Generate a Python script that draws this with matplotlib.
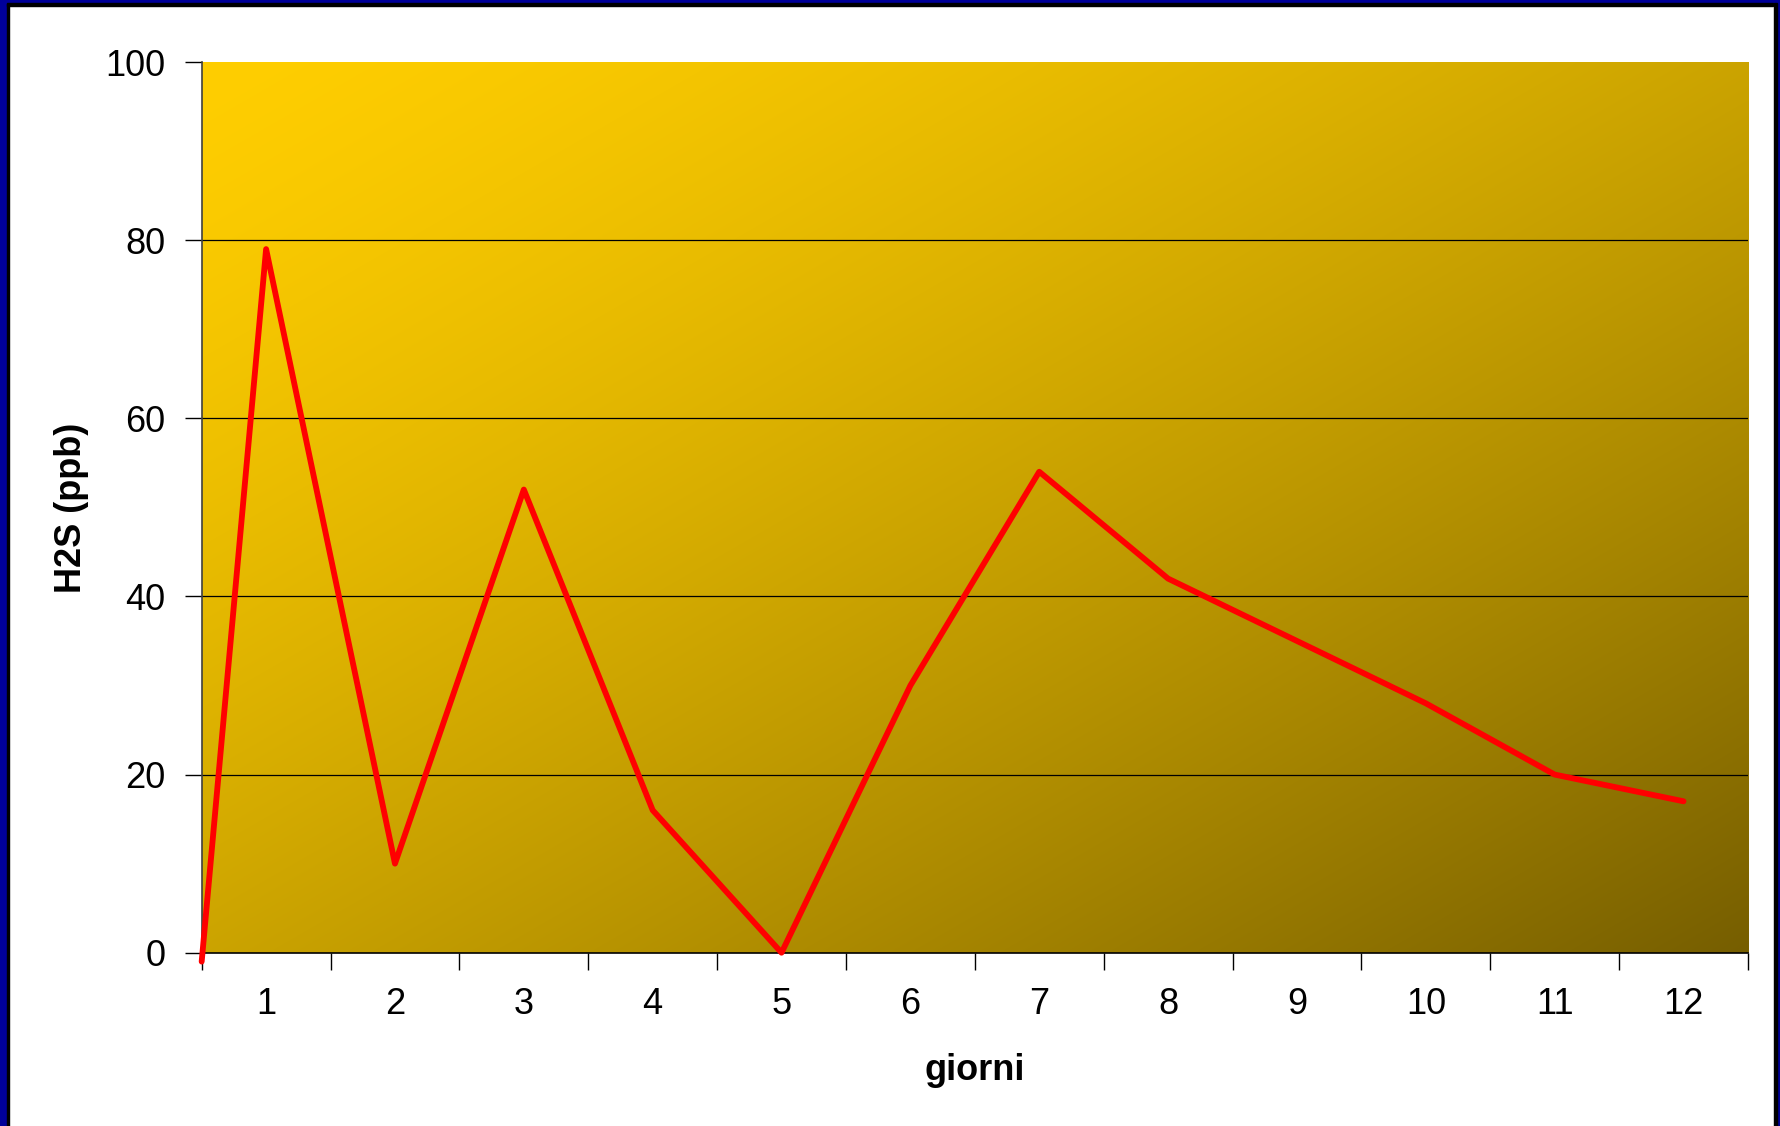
import matplotlib.pyplot as plt
import numpy as np
from matplotlib.patches import Rectangle

plt.rcParams['font.family'] = ['Liberation Sans', 'DejaVu Sans']

# H2S measurements per day (first point sits on the left edge of the axis)
giorni = [0.5, 1, 2, 3, 4, 5, 6, 7, 8, 9, 10, 11, 12]
h2s = [-1, 79, 10, 52, 16, 0, 30, 54, 42, 35, 28, 20, 17]
day_labels = [str(d) for d in range(1, 13)]
y_ticks = [0, 20, 40, 60, 80, 100]

fig = plt.figure(figsize=(17.8, 11.26), dpi=100)
ax = fig.add_axes([0.1133, 0.1539, 0.8687, 0.7910])

# diagonal gold -> dark olive background (row 0 = top)
n = 400
gx, gy = np.meshgrid(np.linspace(0, 1, n), np.linspace(0, 1, n))
t = ((gx + gy) / 2) ** 1.4
c0 = np.array([255, 206, 0]) / 255.0
c1 = np.array([118, 94, 0]) / 255.0
grad = c0[None, None, :] * (1 - t[..., None]) + c1[None, None, :] * t[..., None]
ax.imshow(grad, extent=[0, 1, 0, 1], origin='upper', transform=ax.transAxes,
          aspect='auto', zorder=0, interpolation='bilinear')

for v in y_ticks[1:-1]:
    ax.axhline(v, color='black', lw=0.9, zorder=1)

ax.plot(giorni, h2s, color='#ff0000', lw=4.2, zorder=3, clip_on=False,
        solid_joinstyle='round', solid_capstyle='round')

ax.set_xlim(0.5, 12.5)
ax.set_ylim(0, 100)

ax.set_yticks(y_ticks)
ax.set_xticks(np.arange(0.5, 13, 1))
ax.set_xticklabels([])
ax.set_xticks(range(1, 13), minor=True)
ax.set_xticklabels(day_labels, minor=True)
ax.tick_params(axis='x', which='major', length=12, width=1, direction='out')
ax.tick_params(axis='x', which='minor', length=0, pad=25, labelsize=26)
ax.tick_params(axis='y', length=12, width=1, pad=14, labelsize=26)

for s in ['top', 'right']:
    ax.spines[s].set_visible(False)
ax.spines['left'].set_color('#404040')
ax.spines['bottom'].set_color('black')
ax.spines['left'].set_linewidth(1.2)
ax.spines['bottom'].set_linewidth(1.2)

ax.set_xlabel('giorni', fontsize=26, fontweight='bold', labelpad=22)
ax.set_ylabel('H2S (ppb)', fontsize=26, fontweight='bold', labelpad=12)

# frame around the slide
W, H = 1780, 1126
def strip(x, y, w, h, color):
    fig.patches.append(Rectangle((x / W, 1 - (y + h) / H), w / W, h / H,
                                 transform=fig.transFigure, color=color,
                                 zorder=10))

strip(0, 0, 7, H, '#000099')
strip(7, 0, 2, H, 'black')
strip(0, 0, W, 3, '#000099')
strip(7, 3, W - 14, 3, 'black')
strip(W - 3, 0, 3, H, '#000099')
strip(W - 6, 3, 3, H, 'black')

fig.savefig('out.png', dpi=100)
